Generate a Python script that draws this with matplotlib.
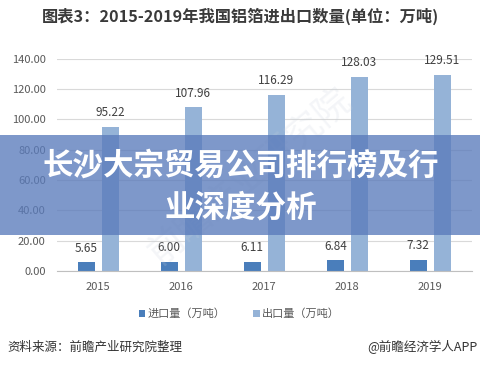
import matplotlib.pyplot as plt
import matplotlib.patches as patches
import numpy as np

plt.rcParams['font.family'] = ['Noto Sans CJK SC', 'DejaVu Sans']

years = ['2015', '2016', '2017', '2018', '2019']
imports = [5.65, 6.00, 6.11, 6.84, 7.32]
exports = [95.22, 107.96, 116.29, 128.03, 129.51]

import_color = '#4a7ebb'
export_color = '#95b3d7'
text_gray = '#595959'

fig = plt.figure(figsize=(4.81, 3.70), dpi=100)
ax = fig.add_axes([0.118, 0.268, 0.863, 0.573])

x = np.arange(len(years))
w = 0.2
off = 0.145
b1 = ax.bar(x - off, imports, w, color=import_color, label='进口量（万吨）', zorder=2)
b2 = ax.bar(x + off, exports, w, color=export_color, label='出口量（万吨）', zorder=2)

# data labels
for bars, vals in [(b1, imports), (b2, exports)]:
    for bar, v in zip(bars, vals):
        ax.text(bar.get_x() + bar.get_width() / 2, v + 5, f'{v:.2f}',
                ha='center', va='bottom', fontsize=8.5, color='#404040')

ax.set_xlim(-0.5, 4.5)
ax.set_ylim(0, 140)
ax.set_yticks(range(0, 141, 20))
ax.set_yticklabels([f'{t:.2f}' for t in range(0, 141, 20)])
ax.set_xticks(x)
ax.set_xticklabels(years)
ax.tick_params(axis='both', length=0, labelsize=8, labelcolor=text_gray, pad=8)
ax.grid(axis='y', color='#d9d9d9', linewidth=0.8, zorder=0)
for s in ['top', 'right', 'left']:
    ax.spines[s].set_visible(False)
ax.spines['bottom'].set_color('#bfbfbf')

ax.legend(loc='upper center', bbox_to_anchor=(0.44, -0.13), ncol=2, frameon=False,
          fontsize=8, handlelength=0.6, handleheight=0.6, columnspacing=2.5,
          handletextpad=0.2, labelcolor=text_gray)

fig.text(0.5, 0.955, '图表3：2015-2019年我国铝箔进出口数量(单位：万吨)', ha='center', va='center',
         fontsize=11.7, fontweight='bold', color='#3a3a3a')

fig.text(0.015, 0.062, '资料来源：前瞻产业研究院整理', ha='left', va='center', fontsize=9, color='#333333')
fig.text(0.993, 0.062, '@前瞻经济学人APP', ha='right', va='center', fontsize=9, color='#333333')

# faint watermark
fig.text(0.52, 0.52, '前瞻产业研究院', ha='center', va='center', fontsize=26, rotation=40,
         color='#c8d0dc', alpha=0.2, zorder=1)

# banner overlay
banner = patches.Rectangle((0, 0.365), 1, 0.27, transform=fig.transFigure,
                           facecolor='#5a7bbb', alpha=0.78, zorder=10)
fig.patches.append(banner)
fig.text(0.5, 0.553, '长沙大宗贸易公司排行榜及行', ha='center', va='center',
         fontsize=22, fontweight='bold', color='white', zorder=11)
fig.text(0.5, 0.44, '业深度分析', ha='center', va='center',
         fontsize=22, fontweight='bold', color='white', zorder=11)

fig.savefig('out.png', dpi=100)
